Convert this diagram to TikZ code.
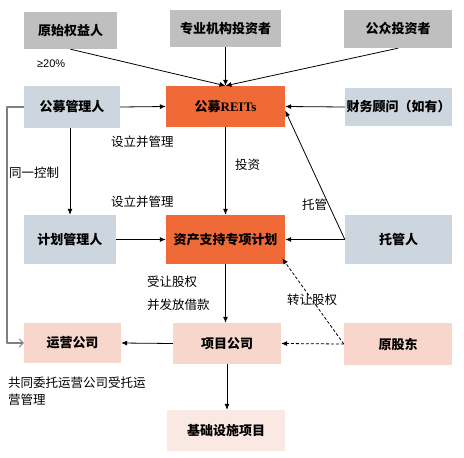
\documentclass[tikz,border=0pt]{standalone}
\usepackage{fontspec}
\setmainfont{Noto Sans CJK SC}
\newfontfamily\latserif{Liberation Serif}
\newfontfamily\latsans{Liberation Sans}
\usepackage{xcolor}
\definecolor{rtgray}{HTML}{BFBFBF}
\definecolor{rtblue}{HTML}{CDD5DF}
\definecolor{rtorange}{HTML}{F06A38}
\definecolor{rtpink}{HTML}{F8D6CB}
\definecolor{rtlight}{HTML}{FAE8E3}
\definecolor{rtline}{HTML}{7F7F7F}
\usepackage{tikz}
\usetikzlibrary{arrows.meta,positioning}
\tikzset{
  >={Latex[length=6pt,width=5pt]},
  every picture/.style={line join=round},
  box/.style={inner sep=0pt, font=\fontsize{13}{15}\selectfont\bfseries, text=black},
  graybox/.style={box, fill=rtgray},
  bluebox/.style={box, fill=rtblue},
  orangebox/.style={box, fill=rtorange},
  pinkbox/.style={box, fill=rtpink},
  lightbox/.style={box, fill=rtlight},
  lbl/.style={inner sep=0pt, anchor=west, font=\fontsize{12.5}{17}\selectfont, text=black},
  link/.style={black, line width=0.8pt, ->},
  dlink/.style={black, line width=0.8pt, ->, dash pattern=on 3pt off 2pt},
  ctrl/.style={rtline, line width=1.5pt, -{Straight Barb[length=4pt,width=8pt,line width=0.8pt]}},
}
\begin{document}
\begin{tikzpicture}[x=1pt, y=-1pt]
\useasboundingbox (0,0) rectangle (464,458);
% top row
\node[graybox, minimum width=93pt, minimum height=37pt] (orig) at (70.5,30.5) {原始权益人};
\node[graybox, minimum width=111pt, minimum height=37pt] (pro) at (225.5,28.5) {专业机构投资者};
\node[graybox, minimum width=108pt, minimum height=38pt] (pub) at (398,29) {公众投资者};
% second row
\node[bluebox, minimum width=96pt, minimum height=42pt] (fundmgr) at (72,107) {公募管理人};
\node[orangebox, minimum width=119pt, minimum height=41pt] (reits) at (225.5,106.5) {公募{\latserif REITs}};
\node[bluebox, minimum width=107pt, minimum height=38pt] (adv) at (398.5,107) {财务顾问（如有）};
% third row
\node[bluebox, minimum width=92pt, minimum height=49pt] (planmgr) at (70,239.5) {计划管理人};
\node[orangebox, minimum width=119pt, minimum height=49pt] (abs) at (225.5,239.5) {资产支持专项计划};
\node[bluebox, minimum width=107pt, minimum height=49pt] (cust) at (398.5,239.5) {托管人};
% fourth row
\node[pinkbox, minimum width=97pt, minimum height=40pt] (opco) at (72.5,343) {运营公司};
\node[pinkbox, minimum width=108pt, minimum height=41pt] (projco) at (227,343.5) {项目公司};
\node[pinkbox, minimum width=108pt, minimum height=42pt] (origsh) at (398,344) {原股东};
\node[lightbox, minimum width=118pt, minimum height=41pt] (infra) at (226,430.5) {基础设施项目};
% investors
\draw[link] (orig.south) -- (reits.north);
\draw[link] (pro.south) -- (reits.north);
\draw[link] (pub.south) -- (reits.north);
\node[lbl, font=\fontsize{11}{13}\selectfont\latsans] (share) at (37,64) {≥20\%};
% managers
\draw[link] (fundmgr.east) -- (reits.west);
\draw[link] (adv.west) -- (reits.east);
\draw[link] (fundmgr.south -| planmgr.north) -- (planmgr.north);
\draw[link] (reits.south) -- (abs.north);
\draw[link] (planmgr.east) -- (abs.west);
\draw[link] (cust.west) -- (abs.east);
\draw[link] (cust.west) -- ([yshift=-4pt]reits.east);
\node[lbl] (setup1) at (111,142) {设立并管理};
\node[lbl] (setup2) at (111,202) {设立并管理};
\node[lbl] (invest) at (235,165) {投资};
\node[lbl] (custody) at (302,205) {托管};
% project level
\draw[link] (abs.south) -- (abs.south |- projco.north);
\draw[link] (projco.west) -- (opco.east);
\draw[link] (projco.south) -- (projco.south |- infra.north);
\draw[dlink] (origsh.west) -- (projco.east);
\draw[dlink] (origsh.west) -- ([xshift=-3pt,yshift=6pt]abs.south east);
\node[lbl] (transfer) at (147,282) {受让股权};
\node[lbl] (loan) at (147,305) {并发放借款};
\node[lbl] (sell) at (287,300) {转让股权};
% same control
\draw[ctrl] (fundmgr.west) -- ++(-17,0) |- (opco.west);
\node[lbl] (control) at (9,173) {同一控制};
\node[lbl, anchor=north west, align=left] (entrust) at (8,377) {共同委托运营公司受托运\\营管理};
\end{tikzpicture}
\end{document}
